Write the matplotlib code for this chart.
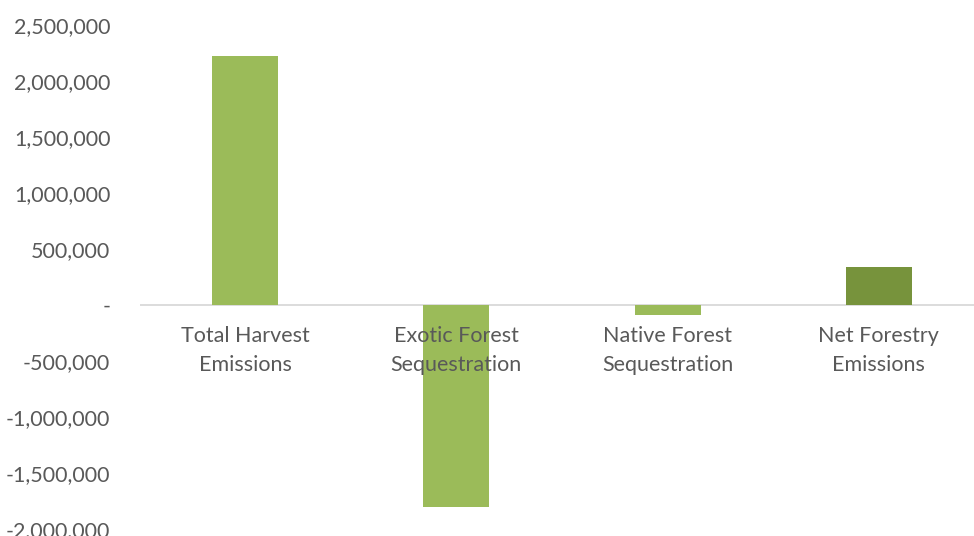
import matplotlib
matplotlib.use("Agg")
import matplotlib.pyplot as plt
from matplotlib.ticker import FuncFormatter

categories = ["Total Harvest\nEmissions", "Exotic Forest\nSequestration",
              "Native Forest\nSequestration", "Net Forestry\nEmissions"]
values = [2227000, -1805000, -85000, 337000]
colors = ["#9BBB59", "#9BBB59", "#9BBB59", "#77933C"]
yticks = [-2000000, -1500000, -1000000, -500000, 0, 500000, 1000000, 1500000, 2000000, 2500000]

plt.rcParams['font.family'] = ['Lato', 'DejaVu Sans']
text_color = "#595959"

fig = plt.figure(figsize=(9.74, 5.36), dpi=100)
W, H = 974, 536
left, right = 139.5, 984.5
top, bottom = 25, 529
ax = fig.add_axes([left / W, (H - bottom) / H, (right - left) / W, (bottom - top) / H])

x = list(range(len(categories)))
ax.bar(x, values, width=0.313, color=colors, zorder=2)
ax.set_xlim(-0.5, len(categories) - 0.5)
ax.set_ylim(-2000000, 2500000)
ax.set_yticks(yticks)

def fmt(v, pos):
    if v == 0:
        return "-"
    return f"{int(v):,}"
ax.yaxis.set_major_formatter(FuncFormatter(fmt))
ax.tick_params(axis='y', length=0, pad=21, labelsize=15.5, labelcolor=text_color)
ax.set_xticks([])
for s in ax.spines.values():
    s.set_visible(False)
ax.axhline(0, color="#D9D9D9", lw=1.3, zorder=1)

for xi, lab in zip(x, categories):
    ax.annotate(lab, xy=(xi, 0), xycoords='data', xytext=(0, -15), textcoords='offset points',
                ha='center', va='top', fontsize=15.5, color=text_color, linespacing=1.55)

fig.savefig("out.png", dpi=100)
